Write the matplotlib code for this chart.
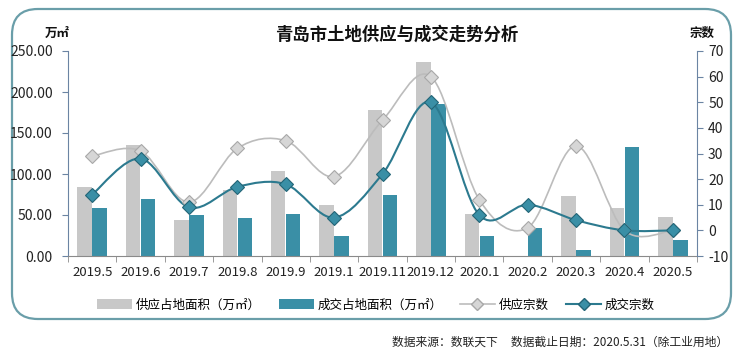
import numpy as np
import matplotlib
matplotlib.use("Agg")
import matplotlib.pyplot as plt
from matplotlib.patches import FancyBboxPatch, Patch
from matplotlib.lines import Line2D
from matplotlib.path import Path
from matplotlib.patches import PathPatch

plt.rcParams['font.family'] = ['Noto Sans CJK SC', 'DejaVu Sans']

categories = ["2019.5", "2019.6", "2019.7", "2019.8", "2019.9", "2019.1", "2019.11",
              "2019.12", "2020.1", "2020.2", "2020.3", "2020.4", "2020.5"]
supply_area = [84, 135, 44, 80, 104, 62, 178, 237, 51, 0, 73, 59, 47]
deal_area = [59, 70, 50, 46, 51, 24, 75, 185, 25, 34, 7, 133, 19]
supply_count = [29, 31, 11, 32, 35, 21, 43, 60, 12, 1, 33, 0, 0]
deal_count = [14, 28, 9, 17, 18, 5, 22, 50, 6, 10, 4, 0, 0]

GRAY_BAR = "#c8c8c8"
TEAL_BAR = "#3a8fa6"
GRAY_LINE = "#bcbcbc"
TEAL_LINE = "#2c7a8f"

W, H = 739, 352
fig = plt.figure(figsize=(W / 100, H / 100), dpi=100)

# rounded frame
frame = FancyBboxPatch((12 / W, 33 / H), 719 / W, 310 / H,
                       boxstyle="round,pad=0,rounding_size=0.035",
                       transform=fig.transFigure, facecolor="none",
                       edgecolor="#6a9ea9", linewidth=1.6, mutation_aspect=W / H,
                       zorder=-1)
fig.patches.append(frame)

ax = fig.add_axes([68 / W, 1 - 256 / H, (697 - 68) / W, (256 - 51) / H])
ax.set_facecolor("none")
x = np.arange(len(categories))
bw = 0.3
ax.bar(x - 0.155, supply_area, width=bw, color=GRAY_BAR, zorder=2)
ax.bar(x + 0.155, deal_area, width=bw, color=TEAL_BAR, zorder=2)
ax.set_xlim(-0.5, len(categories) - 0.5)
ax.set_ylim(0, 250)
ax.set_yticks(np.arange(0, 251, 50))
ax.set_yticklabels([f"{v:.2f}" for v in np.arange(0, 251, 50)], fontsize=10, color="#222222")
ax.set_xticks(x)
ax.set_xticklabels(categories, fontsize=9.5, color="#222222")
ax.tick_params(axis='x', which='major', length=0, pad=7)
ax.set_xticks(np.arange(-0.5, len(categories), 1), minor=True)
ax.tick_params(axis='x', which='minor', length=4, color="#8a8a8a", direction='out')
ax.tick_params(axis='y', length=4, color="#6b84a3", direction='out', pad=7)
for s in ["top", "right"]:
    ax.spines[s].set_visible(False)
ax.spines["left"].set_color("#6b84a3")
ax.spines["bottom"].set_color("#8a8a8a")

ax2 = ax.twinx()
ax2.set_ylim(-10, 70)
ax2.set_yticks(np.arange(-10, 71, 10))
ax2.set_yticklabels([str(v) for v in range(-10, 71, 10)], fontsize=10, color="#222222")
ax2.tick_params(axis='y', length=4, color="#6b84a3", direction='out', pad=4)
for s in ["top", "left", "bottom"]:
    ax2.spines[s].set_visible(False)
ax2.spines["right"].set_color("#6b84a3")


def smooth_path(xs, ys):
    xs = np.asarray(xs, float)
    ys = np.asarray(ys, float)
    n = len(xs)
    verts = [(xs[0], ys[0])]
    codes = [Path.MOVETO]
    for i in range(n - 1):
        p0 = (xs[max(i - 1, 0)], ys[max(i - 1, 0)])
        p1 = (xs[i], ys[i])
        p2 = (xs[i + 1], ys[i + 1])
        p3 = (xs[min(i + 2, n - 1)], ys[min(i + 2, n - 1)])
        c1 = (p1[0] + (p2[0] - p0[0]) / 6, p1[1] + (p2[1] - p0[1]) / 6)
        c2 = (p2[0] - (p3[0] - p1[0]) / 6, p2[1] - (p3[1] - p1[1]) / 6)
        verts += [c1, c2, p2]
        codes += [Path.CURVE4] * 3
    return Path(verts, codes)


ax2.add_patch(PathPatch(smooth_path(x, supply_count), facecolor="none",
                        edgecolor=GRAY_LINE, linewidth=1.2, zorder=3))
ax2.add_patch(PathPatch(smooth_path(x, deal_count), facecolor="none",
                        edgecolor=TEAL_LINE, linewidth=1.5, zorder=4))
ax2.plot(x, supply_count, linestyle="none", marker="D", markersize=7.5,
         markerfacecolor="#d6d6d6", markeredgecolor="#a8a8a8", markeredgewidth=0.8, zorder=5)
ax2.plot(x, deal_count, linestyle="none", marker="D", markersize=7.5,
         markerfacecolor="#3a8fa6", markeredgecolor="#236577", markeredgewidth=0.8, zorder=6)

# titles and unit labels
fig.text(397 / W, 1 - 35 / H, "青岛市土地供应与成交走势分析", fontsize=12.5,
         fontweight="bold", ha="center", va="center", color="#111111")
fig.text(57 / W, 1 - 33 / H, "万㎡", fontsize=9, fontweight="bold",
         ha="center", va="center", color="#111111")
fig.text(702 / W, 1 - 33 / H, "宗数", fontsize=9, fontweight="bold",
         ha="center", va="center", color="#111111")

handles = [
    Patch(facecolor=GRAY_BAR, edgecolor="none"),
    Patch(facecolor=TEAL_BAR, edgecolor="none"),
    Line2D([], [], color=GRAY_LINE, lw=1.2, marker="D", markersize=6,
           markerfacecolor="#d6d6d6", markeredgecolor="#a8a8a8"),
    Line2D([], [], color=TEAL_LINE, lw=1.5, marker="D", markersize=6,
           markerfacecolor="#3a8fa6", markeredgecolor="#236577"),
]
labels = ["供应占地面积（万㎡）", "成交占地面积（万㎡）", "供应宗数", "成交宗数"]
fig.legend(handles, labels, loc="center", bbox_to_anchor=(376 / W, 1 - 305 / H),
           ncol=4, frameon=False, fontsize=9, handlelength=2.8, handleheight=0.8,
           columnspacing=1.4, handletextpad=0.3)

fig.text(728 / W, 1 - 342 / H, "数据来源：数联天下     数据截止日期：2020.5.31（除工业用地）",
         fontsize=8.5, ha="right", va="center", color="#222222")

fig.savefig("out.png", dpi=100)
